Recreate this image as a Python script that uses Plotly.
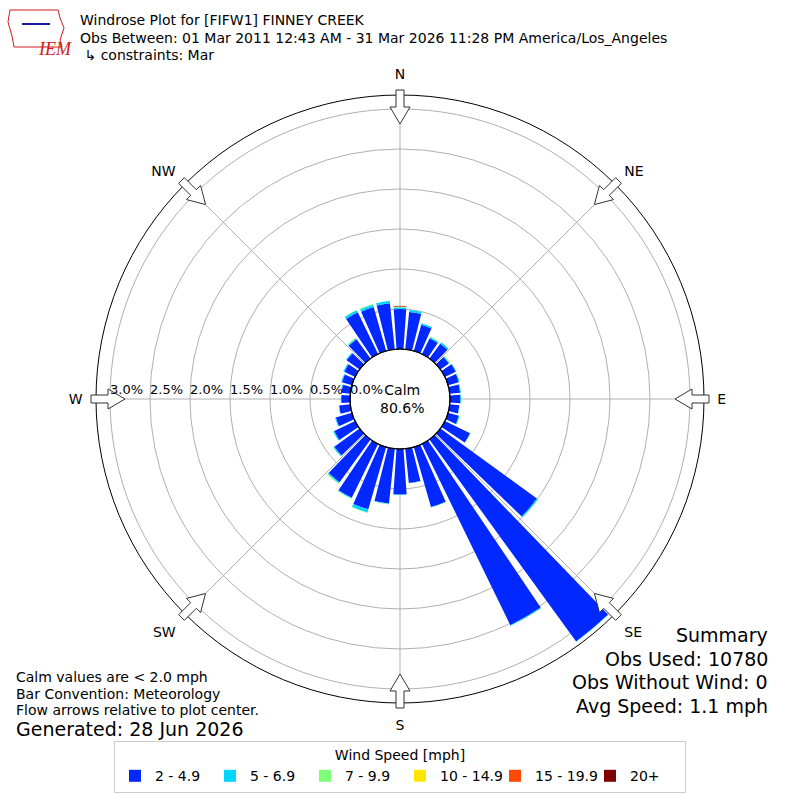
import math
import plotly.graph_objects as go

# wind direction bins (degrees, meteorological convention)
directions = [0, 10, 20, 30, 40, 50, 60, 70, 80, 90, 100, 110,
              120, 130, 140, 150, 160, 170, 180, 190, 200, 210, 220, 230,
              240, 250, 260, 270, 280, 290, 300, 310, 320, 330, 340, 350]

speed_labels = ["2 - 4.9", "5 - 6.9", "7 - 9.9", "10 - 14.9", "15 - 19.9", "20+"]
speed_colors = ["#0028ff", "#00d4ff", "#7dff7a", "#ffe500", "#ff4800", "#800000"]

# frequency (%) per direction for each speed bin
spd_2_5 = [0.50, 0.47, 0.34, 0.22, 0.23, 0.13, 0.15, 0.14, 0.13, 0.13, 0.12, 0.14,
           0.35, 1.49, 3.12, 2.52, 0.78, 0.43, 0.57, 0.69, 0.81, 0.75, 0.66, 0.39,
           0.29, 0.21, 0.14, 0.11, 0.11, 0.13, 0.15, 0.20, 0.30, 0.58, 0.57, 0.58]
spd_5_7 = [0.02, 0.025, 0.02, 0.015, 0.02, 0.01, 0.01, 0.01, 0.01, 0.01, 0.005, 0.01,
           0.005, 0.015, 0.005, 0.01, 0.005, 0.005, 0.005, 0.005, 0.04, 0.01, 0.015, 0.015,
           0.015, 0.01, 0.005, 0.005, 0.01, 0.01, 0.015, 0.01, 0.01, 0.03, 0.03, 0.03]
spd_7_10 = [0.005, 0, 0, 0.008, 0, 0.01, 0, 0, 0, 0, 0, 0,
            0, 0, 0, 0, 0, 0, 0, 0.005, 0.006, 0.006, 0.01, 0,
            0, 0, 0, 0, 0, 0, 0, 0, 0.01, 0.005, 0.01, 0]
spd_10_15 = [0.003, 0, 0, 0, 0, 0.005, 0, 0, 0, 0, 0, 0,
             0, 0, 0, 0, 0, 0, 0, 0, 0, 0, 0, 0,
             0, 0, 0, 0, 0, 0, 0, 0, 0, 0, 0, 0]
spd_15_20 = [0.004, 0, 0, 0, 0, 0, 0, 0, 0, 0, 0, 0,
             0, 0, 0, 0, 0, 0, 0, 0, 0, 0, 0, 0,
             0, 0, 0, 0, 0, 0, 0, 0, 0, 0, 0, 0]
spd_20p = [0.004, 0, 0, 0, 0, 0, 0, 0, 0, 0, 0, 0,
           0, 0, 0, 0, 0, 0, 0, 0, 0, 0, 0, 0,
           0, 0, 0, 0, 0, 0, 0, 0, 0, 0, 0, 0]
series = [spd_2_5, spd_5_7, spd_7_10, spd_10_15, spd_15_20, spd_20p]

compass = ["N", "NE", "E", "SE", "S", "SW", "W", "NW"]
compass_deg = [0, 45, 90, 135, 180, 225, 270, 315]
rticks = [0.0, 0.5, 1.0, 1.5, 2.0, 2.5, 3.0]
rmax = 3.175

# geometry (pixels in an 800x800 page)
W = 800
cx, cy = 400, 399
R = 304
hole_px = 50
ppu = (R - hole_px) / rmax

fig = go.Figure()
for name, vals, col in zip(speed_labels, series, speed_colors):
    fig.add_trace(go.Barpolar(
        r=vals, theta=directions, name=name, width=8,
        marker=dict(color=col, line=dict(width=0)),
    ))


def px(x, y):
    return x / W, 1 - y / W


# hollow flow arrows on the rim
shapes = []
for d in compass_deg:
    t = math.radians(d)
    pts = [(309, -4), (292, -4), (292, -10), (275, 0), (292, 10), (292, 4), (309, 4)]
    path = ""
    for i, (u, v) in enumerate(pts):
        x = cx + u * math.sin(t) + v * math.cos(t)
        y = cy - u * math.cos(t) + v * math.sin(t)
        X, Y = px(x, y)
        path += ("M" if i == 0 else " L") + f"{X:.5f},{Y:.5f}"
    path += " Z"
    shapes.append(dict(type="path", path=path, xref="paper", yref="paper",
                       fillcolor="white", line=dict(color="#333333", width=1)))

# black outline of the calm circle
x0, y0 = px(cx - hole_px, cy + hole_px)
x1, y1 = px(cx + hole_px, cy - hole_px)
shapes.append(dict(type="circle", xref="paper", yref="paper", x0=x0, y0=y0, x1=x1, y1=y1,
                   line=dict(color="black", width=1.2)))

font = "DejaVu Sans"
ann = []
# radial labels along the west spoke
for v in rticks:
    x, y = px(cx - hole_px - v * ppu - 2, cy)
    ann.append(dict(x=x, y=y, xref="paper", yref="paper", text=f"{v:.1f}%", showarrow=False,
                    xanchor="left", yanchor="bottom", font=dict(size=13, color="black")))

ann.append(dict(x=px(cx + 2, 0)[0], y=px(0, cy)[1], xref="paper", yref="paper",
                text="Calm<br>80.6%", showarrow=False,
                font=dict(size=14, color="black"), align="center"))

titles = ["Windrose Plot for [FIFW1] FINNEY CREEK",
          "Obs Between: 01 Mar 2011 12:43 AM - 31 Mar 2026 11:28 PM America/Los_Angeles",
          " ↳ constraints: Mar"]
for i, t in enumerate(titles):
    x, y = px(78, 20 + i * 17.5)
    ann.append(dict(x=x, y=y, xref="paper", yref="paper", text=t, showarrow=False,
                    xanchor="left", yanchor="middle", font=dict(size=14, color="black")))

x, y = px(36, 37)
ann.append(dict(x=x, y=y, xref="paper", yref="paper", text="<i>IEM</i>", showarrow=False,
                font=dict(size=18, color="#d01c1c", family="Liberation Serif")))

notes = ["Calm values are < 2.0 mph", "Bar Convention: Meteorology",
         "Flow arrows relative to plot center."]
for i, t in enumerate(notes):
    x, y = px(14, 677 + i * 16.5)
    ann.append(dict(x=x, y=y, xref="paper", yref="paper", text=t, showarrow=False,
                    xanchor="left", yanchor="middle", font=dict(size=14, color="black")))
x, y = px(14, 729)
ann.append(dict(x=x, y=y, xref="paper", yref="paper", text="Generated: 28 Jun 2026",
                showarrow=False, xanchor="left", yanchor="middle", font=dict(size=19, color="black")))

summary = ["Summary", "Obs Used: 10780", "Obs Without Wind: 0", "Avg Speed: 1.1 mph"]
for i, t in enumerate(summary):
    x, y = px(770, 635 + i * 23.5)
    ann.append(dict(x=x, y=y, xref="paper", yref="paper", text=t, showarrow=False,
                    xanchor="right", yanchor="middle", font=dict(size=19, color="black")))

# rough Iowa outline for the logo, with a hint of the blue emblem
logo = [(10, 10), (58, 10), (60, 18), (64, 28), (60, 40), (62, 47), (14, 47), (12, 36), (8, 22)]
path = ""
for i, (a, b) in enumerate(logo):
    X, Y = px(a, b)
    path += ("M" if i == 0 else " L") + f"{X:.5f},{Y:.5f}"
shapes.append(dict(type="path", path=path + " Z", xref="paper", yref="paper",
                   line=dict(color="#d01c1c", width=1)))
ex0, ey0 = px(22, 24)
ex1, ey1 = px(50, 24)
shapes.append(dict(type="line", xref="paper", yref="paper", x0=ex0, y0=ey0, x1=ex1, y1=ey1,
                   line=dict(color="#1a1aa0", width=2)))

fig.update_layout(
    width=W, height=W,
    margin=dict(l=0, r=0, t=0, b=0, autoexpand=False),
    paper_bgcolor="white",
    font=dict(family=font, size=14, color="black"),
    polar=dict(
        domain=dict(x=[(cx - R) / W, (cx + R) / W], y=[1 - (cy + R) / W, 1 - (cy - R) / W]),
        hole=hole_px / R,
        bgcolor="white",
        barmode="stack",
        radialaxis=dict(range=[0, rmax], tickvals=rticks[1:], showticklabels=False,
                        ticks="", showline=False, gridcolor="#b0b0b0", gridwidth=1),
        angularaxis=dict(rotation=90, direction="clockwise", tickmode="array",
                         tickvals=compass_deg, ticktext=compass, ticks="outside", ticklen=10,
                         tickcolor="rgba(0,0,0,0)", showline=True, linecolor="black",
                         linewidth=1, gridcolor="#b0b0b0", gridwidth=1,
                         tickfont=dict(size=14)),
    ),
    showlegend=True,
    legend=dict(orientation="h", x=0.5, xanchor="center", y=1 - 741 / W, yanchor="top",
                bordercolor="#cccccc", borderwidth=1, bgcolor="white",
                title=dict(text="Wind Speed [mph]", side="top center", font=dict(size=14)),
                font=dict(size=14), entrywidth=50, itemwidth=30),
    shapes=shapes,
    annotations=ann,
)

fig.write_html("out.html", config={"displayModeBar": False},
               post_script="document.body.style.margin='0';")
